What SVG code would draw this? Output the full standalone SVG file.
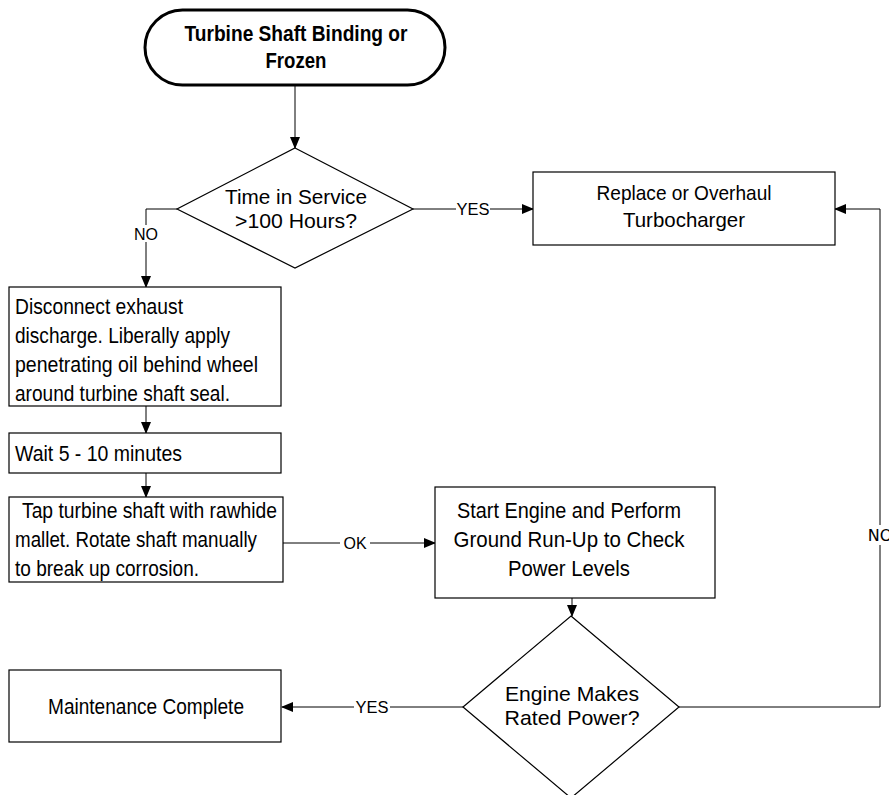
<svg xmlns="http://www.w3.org/2000/svg" width="889" height="795" viewBox="0 0 889 795">
<style>
.n{fill:#fff;stroke:#000;stroke-width:1.2}
.t{font-family:"Liberation Sans",Arial,sans-serif;fill:#000}
.c{stroke:#000;stroke-width:1;fill:none}
.lb{font-family:"Liberation Sans",Arial,sans-serif;font-size:16px;fill:#000}
</style>
<defs>
<marker id="ah" markerWidth="12" markerHeight="10" refX="11" refY="5" orient="auto" markerUnits="userSpaceOnUse">
<path d="M0,0 L12,5 L0,10 Z" fill="#000"/>
</marker>
</defs>
<rect width="889" height="795" fill="#fff"/>
<g id="connectors">
<path class="c" d="M295,85 V148" marker-end="url(#ah)"/>
<path class="c" d="M413,209 H456"/>
<path class="c" d="M490,209 H533" marker-end="url(#ah)"/>
<text class="lb" x="473" y="215" text-anchor="middle" textLength="33" lengthAdjust="spacingAndGlyphs">YES</text>
<path class="c" d="M177,209 H146 V225"/>
<path class="c" d="M146,242 V287" marker-end="url(#ah)"/>
<text class="lb" x="146" y="240" text-anchor="middle">NO</text>
<path class="c" d="M146,406 V433" marker-end="url(#ah)"/>
<path class="c" d="M146,473 V497" marker-end="url(#ah)"/>
<path class="c" d="M283,543 H340"/>
<path class="c" d="M370,543 H435" marker-end="url(#ah)"/>
<text class="lb" x="355" y="549" text-anchor="middle">OK</text>
<path class="c" d="M572,598 V616" marker-end="url(#ah)"/>
<path class="c" d="M463,707 H390"/>
<path class="c" d="M354,707 H282" marker-end="url(#ah)"/>
<text class="lb" x="372" y="713" text-anchor="middle" textLength="33" lengthAdjust="spacingAndGlyphs">YES</text>
<path class="c" d="M679,707 H880 V545"/>
<path class="c" d="M880,525 V209 H835" marker-end="url(#ah)"/>
<text x="880" y="541" text-anchor="middle" font-family="DejaVu Sans,sans-serif" font-size="16" fill="#000">NO</text>
</g>
<g id="start">
<rect x="145" y="10" width="300" height="75" rx="37.5" ry="37.5" fill="#fff" stroke="#000" stroke-width="3"/>
<text class="t" font-weight="bold" font-size="22" x="296" y="41" text-anchor="middle" textLength="223" lengthAdjust="spacingAndGlyphs">Turbine Shaft Binding or</text>
<text class="t" font-weight="bold" font-size="22" x="296" y="68" text-anchor="middle" textLength="61" lengthAdjust="spacingAndGlyphs">Frozen</text>
</g>
<g id="decision1">
<polygon class="n" points="295,148 413,209 295,268 177,209"/>
<text class="t" font-size="20" x="296" y="204" text-anchor="middle" textLength="142" lengthAdjust="spacingAndGlyphs">Time in Service</text>
<text class="t" font-size="20" x="296" y="228" text-anchor="middle" textLength="122" lengthAdjust="spacingAndGlyphs">&gt;100 Hours?</text>
</g>
<g id="replace">
<rect class="n" x="533" y="172" width="302" height="73"/>
<text class="t" font-size="21" x="684" y="200" text-anchor="middle" textLength="175" lengthAdjust="spacingAndGlyphs">Replace or Overhaul</text>
<text class="t" font-size="21" x="684" y="227" text-anchor="middle" textLength="122" lengthAdjust="spacingAndGlyphs">Turbocharger</text>
</g>
<g id="disconnect">
<rect class="n" x="9" y="287" width="272" height="119"/>
<text class="t" font-size="22" x="15" y="314" textLength="168" lengthAdjust="spacingAndGlyphs">Disconnect exhaust</text>
<text class="t" font-size="22" x="15" y="343" textLength="215" lengthAdjust="spacingAndGlyphs">discharge. Liberally apply</text>
<text class="t" font-size="22" x="15" y="372" textLength="243" lengthAdjust="spacingAndGlyphs">penetrating oil behind wheel</text>
<text class="t" font-size="22" x="15" y="401" textLength="215" lengthAdjust="spacingAndGlyphs">around turbine shaft seal.</text>
</g>
<g id="wait">
<rect class="n" x="9" y="433" width="272" height="40"/>
<text class="t" font-size="22" x="15" y="461" textLength="167" lengthAdjust="spacingAndGlyphs">Wait 5 - 10 minutes</text>
</g>
<g id="tap">
<rect class="n" x="9" y="497" width="274" height="85"/>
<text class="t" font-size="22" x="22" y="518" textLength="255" lengthAdjust="spacingAndGlyphs">Tap turbine shaft with rawhide</text>
<text class="t" font-size="22" x="15" y="547" textLength="242" lengthAdjust="spacingAndGlyphs">mallet. Rotate shaft manually</text>
<text class="t" font-size="22" x="15" y="576" textLength="184" lengthAdjust="spacingAndGlyphs">to break up corrosion.</text>
</g>
<g id="engine-start">
<rect class="n" x="435" y="487" width="280" height="111"/>
<text class="t" font-size="22" x="569" y="518" text-anchor="middle" textLength="224" lengthAdjust="spacingAndGlyphs">Start Engine and Perform</text>
<text class="t" font-size="22" x="569" y="547" text-anchor="middle" textLength="231" lengthAdjust="spacingAndGlyphs">Ground Run-Up to Check</text>
<text class="t" font-size="22" x="569" y="576" text-anchor="middle" textLength="122" lengthAdjust="spacingAndGlyphs">Power Levels</text>
</g>
<g id="decision2">
<polygon class="n" points="571,616 679,707 571,798 463,707"/>
<text class="t" font-size="21" x="572" y="701" text-anchor="middle" textLength="134" lengthAdjust="spacingAndGlyphs">Engine Makes</text>
<text class="t" font-size="21" x="572" y="725" text-anchor="middle" textLength="135" lengthAdjust="spacingAndGlyphs">Rated Power?</text>
</g>
<g id="complete">
<rect class="n" x="9" y="670" width="272" height="72"/>
<text class="t" font-size="22" x="146" y="714" text-anchor="middle" textLength="196" lengthAdjust="spacingAndGlyphs">Maintenance Complete</text>
</g>
</svg>
